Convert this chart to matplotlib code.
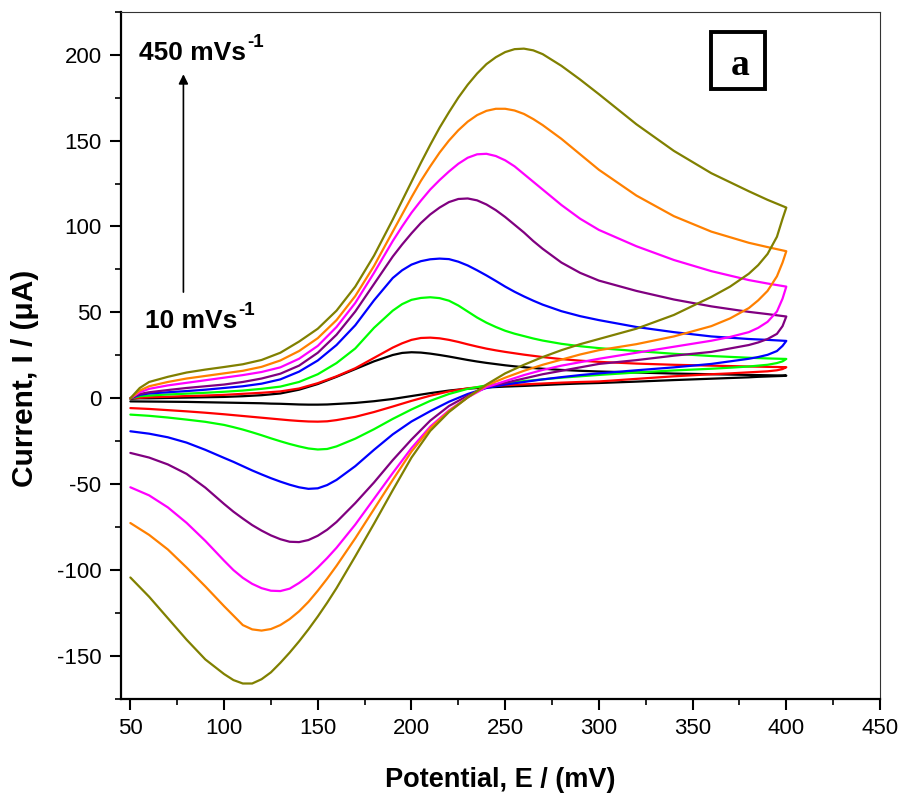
import matplotlib
matplotlib.use("Agg")
import matplotlib.pyplot as plt
from matplotlib.patches import Rectangle
from matplotlib.ticker import MultipleLocator

plt.rcParams['font.family'] = ['Liberation Sans', 'DejaVu Sans']
plt.rcParams['axes.unicode_minus'] = False

# Potential grid (mV): anodic sweep 50 -> 400, cathodic sweep 400 -> 50
E_FWD = [50, 55, 60, 70, 80, 90, 100, 110, 120, 130, 140, 150, 160, 170, 180, 190,
         195, 200, 205, 210, 215, 220, 225, 230, 235, 240, 245, 250, 255, 260, 265, 270,
         280, 290, 300, 320, 340, 360, 380, 390, 400]
E_REV = [400, 398, 395, 390, 385, 380, 370, 360, 340, 320, 300, 290, 280, 270, 260, 250,
         240, 230, 220, 210, 200, 190, 180, 170, 160, 155, 150, 145, 140, 135, 130, 125,
         120, 115, 110, 105, 100, 90, 80, 70, 60, 50]

# Current (uA), one pair of sweeps per scan rate (10 mV/s ... 450 mV/s)
black_fwd = [-0.3, 0, 0, 0.2, 0.4, 0.6, 0.8, 1.2, 1.8, 2.8, 5, 8.3, 12.5, 17, 21.5, 25.2,
             26.4, 26.8, 26.6, 26, 25.2, 24.3, 23.3, 22.3, 21.4, 20.6, 19.9, 19.2, 18.6, 18.1, 17.6, 17.2,
             16.5, 16, 15.6, 15, 14.4, 14, 13.6, 13.4, 13.2]
black_rev = [13.2, 13, 12.9, 12.7, 12.5, 12.2, 11.8, 11.4, 10.6, 9.7, 8.9, 8.6, 8.2, 7.7, 7.2, 6.8,
             6.3, 5.6, 4.5, 3, 1.3, -0.4, -1.7, -2.7, -3.3, -3.6, -3.7, -3.7, -3.6, -3.4, -3.2, -3.1,
             -2.9, -2.8, -2.7, -2.6, -2.5, -2.3, -2.1, -2, -1.9, -1.8]

red_fwd = [0, 0.3, 0.6, 0.9, 1.3, 1.6, 2, 2.6, 3.2, 4, 5.7, 8.8, 12.8, 17.5, 23.5, 29.5,
           32, 34, 35.1, 35.3, 34.9, 34, 32.8, 31.4, 30.1, 28.9, 27.9, 27, 26.2, 25.4, 24.7, 24,
           22.8, 21.9, 21.2, 20.2, 19.5, 19, 18.5, 18.3, 18.1]
red_rev = [18.1, 17, 16.3, 15.7, 15.4, 15.1, 14.5, 14, 12.8, 11.3, 9.8, 9.5, 9.1, 8.6, 8.1, 7.6,
           7, 5.8, 4, 1.5, -1.5, -4.8, -8, -10.8, -12.7, -13.4, -13.6, -13.5, -13.2, -12.8, -12.3, -11.8,
           -11.3, -10.8, -10.3, -9.8, -9.3, -8.4, -7.6, -6.9, -6.2, -5.7]

green_fwd = [0, 1.2, 1.6, 2.2, 2.7, 3.2, 3.8, 4.5, 5.5, 6.8, 9.5, 14, 20.5, 29, 41, 51,
             54.8, 57.3, 58.4, 58.8, 58.3, 56.8, 54, 50.5, 47, 44, 41.5, 39.3, 37.6, 36.2, 34.8, 33.6,
             31.7, 30.3, 29.2, 27.5, 25.9, 24.6, 23.6, 23.2, 22.9]
green_rev = [22.9, 21.5, 20.5, 19.5, 19, 18.5, 17.8, 17.2, 16.2, 15, 13.6, 12.8, 12, 11, 10, 8.8,
             7.5, 5.5, 2.5, -1.5, -6.5, -12, -18, -23.5, -28, -29.5, -29.8, -29.2, -28, -26.6, -25, -23.3,
             -21.5, -19.8, -18.2, -16.8, -15.5, -13.7, -12.4, -11.2, -10.2, -9.5]

blue_fwd = [0, 2, 2.8, 3.5, 4.2, 5, 6, 7, 8.5, 11, 15.5, 22, 31, 42.5, 57, 70,
            74.5, 77.8, 79.8, 80.9, 81.3, 81, 79.5, 77.3, 74.5, 71.5, 68.3, 65, 62, 59.3, 56.8, 54.5,
            50.7, 47.8, 45.5, 41.5, 38.5, 36, 34.5, 34, 33.4]
blue_rev = [33.4, 30.5, 27.5, 25.3, 24, 23, 21.5, 20, 18, 16.3, 14.5, 13.5, 12.3, 11, 9.5, 8,
            6, 2.5, -2, -7.5, -13.5, -21, -30, -39.5, -47.5, -50.5, -52.4, -52.7, -51.8, -50.3, -48.5, -46.5,
            -44.3, -42, -39.5, -37, -34.7, -30, -25.8, -22.7, -20.6, -19.2]

purple_fwd = [0, 2.5, 3.5, 4.8, 6, 7, 8, 9.5, 11.5, 14.3, 19, 26.5, 37, 50.5, 66.5, 82.5,
              89.5, 96, 102, 107, 111, 114.2, 116, 116.3, 115.2, 112.8, 109.5, 105.5, 101, 96.5, 91.5, 87,
              79, 73, 68.5, 62.5, 57.5, 53.5, 50.3, 49, 47.6]
purple_rev = [47.6, 42, 37.5, 34.5, 32.5, 31, 29, 27, 24.8, 22.2, 20, 18, 16, 14, 11.5, 9,
              6.5, 1.5, -4.5, -13, -24, -36, -49, -61, -72, -76.5, -80, -82.5, -83.7, -83.5, -82, -79.8,
              -77, -73.8, -70, -66, -61.5, -52, -44, -38.5, -34.5, -31.8]

magenta_fwd = [0, 3.5, 5.5, 7.5, 9, 10.5, 12, 13.5, 15.3, 18, 23, 30.5, 41.5, 55.5, 73, 91.5,
               100, 108, 115, 121.5, 127, 132, 136.5, 140, 142, 142.3, 141, 138.5, 135, 130.5, 126, 121.5,
               112.5, 104.5, 98, 88.5, 80.5, 74, 68.8, 66.8, 65]
magenta_rev = [65, 58, 50.5, 44.5, 41, 38.5, 35.7, 33.5, 30, 26.5, 23, 21, 19, 16.5, 13.5, 10,
               6.5, 0.5, -7, -16.5, -29, -43.5, -58.5, -73.5, -87, -93, -98.5, -103.5, -107.5, -110.8, -112.2, -112,
               -110.5, -108, -104.5, -100, -94.5, -83, -72.5, -63.5, -56.5, -51.8]

orange_fwd = [0, 4.5, 7, 9.5, 11.5, 13, 14.5, 16, 18.3, 22, 27.5, 35, 45.5, 59.5, 77, 97,
              107, 117, 126.5, 135, 143, 150, 156, 161, 164.8, 167.3, 168.5, 168.5, 167.5, 165.5, 162.5, 159,
              151, 142, 133, 118, 106, 97, 90.5, 88, 85.6]
orange_rev = [85.6, 79, 71, 62.5, 57, 52.5, 46.5, 42, 36, 31.5, 28, 25.5, 22.5, 19.5, 16, 12,
              7.5, 0.5, -7.5, -17.5, -31, -47.5, -64.5, -81.5, -97.5, -105, -112, -118.5, -124, -128.5, -132, -134.3,
              -135.2, -134.5, -132, -126.5, -121, -109.5, -98.5, -88, -79.5, -72.6]

olive_fwd = [0, 6, 9.5, 12.5, 15, 16.7, 18.2, 19.8, 22.3, 26.5, 33, 40.5, 51, 65, 83, 104,
             115, 126, 137, 147.5, 157.5, 166.5, 175, 182.5, 189, 194.5, 198.5, 201.5, 203.2, 203.5, 202.5, 200.3,
             193.5, 185.5, 177, 159.5, 144, 131, 120.5, 115.5, 111]
olive_rev = [111, 104.5, 94, 84, 77.5, 72.5, 65, 59, 48.5, 40.5, 34.5, 31.5, 28, 24, 19.5, 14.5,
             8, 0.5, -8, -19, -34.5, -53.5, -73, -92, -110.5, -119, -127, -134.5, -141.5, -148, -154, -159.5,
             -163.5, -166, -166, -164, -160.5, -152, -140.5, -128, -115.5, -104.3]

curves = [
    (black_fwd, black_rev, '#000000'),
    (red_fwd, red_rev, '#FF0000'),
    (green_fwd, green_rev, '#00FF00'),
    (blue_fwd, blue_rev, '#0000FF'),
    (purple_fwd, purple_rev, '#800080'),
    (magenta_fwd, magenta_rev, '#FF00FF'),
    (orange_fwd, orange_rev, '#FF8000'),
    (olive_fwd, olive_rev, '#808000'),
]

fig = plt.figure(figsize=(9.01, 7.96), dpi=100)
fig.patch.set_facecolor('white')
ax = fig.add_axes([0.1343, 0.1219, 0.8424, 0.8634])

for fwd, rev, color in curves:
    ax.plot(E_FWD + E_REV, fwd + rev, color=color, lw=1.6,
            solid_joinstyle='round', solid_capstyle='round')

ax.set_xlim(45, 450)
ax.set_ylim(-175, 225)
ax.xaxis.set_major_locator(MultipleLocator(50))
ax.xaxis.set_minor_locator(MultipleLocator(25))
ax.yaxis.set_major_locator(MultipleLocator(50))
ax.yaxis.set_minor_locator(MultipleLocator(25))

for side in ('left', 'bottom'):
    ax.spines[side].set_linewidth(1.6)
for side in ('top', 'right'):
    ax.spines[side].set_linewidth(0.8)
    ax.spines[side].set_color('#333333')

ax.tick_params(which='major', direction='out', length=8, width=1.5, labelsize=16,
               pad=6, top=False, right=False)
ax.tick_params(which='minor', direction='out', length=4, width=1.2, top=False, right=False)

ax.set_xlabel('Potential, E / (mV)', fontsize=19.5, fontweight='bold', va='center')
ax.xaxis.set_label_coords(0.5, -0.118)
ax.set_ylabel('Current, I / (\u03bcA)', fontsize=21.5, fontweight='bold', va='center')
ax.yaxis.set_label_coords(-0.1265, 0.4663)

# scan-rate annotation
ax.annotate('', xy=(78.3, 188.6), xytext=(78.3, 61.8),
            arrowprops=dict(arrowstyle='-|>', color='black', lw=1.2,
                            mutation_scale=14, shrinkA=0, shrinkB=0))
ax.text(54.6, 196.7, '450 mVs', fontsize=19, fontweight='bold', va='baseline', ha='left')
ax.text(112.2, 204.3, '-1', fontsize=13.5, fontweight='bold', va='baseline', ha='left')
ax.text(57.8, 41.2, '10 mVs', fontsize=19, fontweight='bold', va='baseline', ha='left')
ax.text(107.4, 48.5, '-1', fontsize=13.5, fontweight='bold', va='baseline', ha='left')

# panel tag
ax.add_patch(Rectangle((0.7773, 0.8875), 0.0712, 0.083, transform=ax.transAxes,
                       fill=False, lw=2.8, edgecolor='black', joinstyle='miter'))
ax.text(0.8162, 0.9079, 'a', transform=ax.transAxes, ha='center', va='baseline',
        fontsize=27, fontweight='bold', family=['Liberation Serif', 'DejaVu Serif'])

fig.savefig('out.png', dpi=100, facecolor='white')
